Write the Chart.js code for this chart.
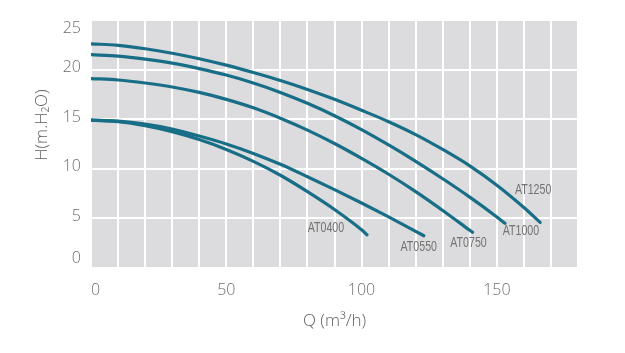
<!DOCTYPE html>
<html>
<head>
<meta charset="utf-8">
<script src="https://cdn.jsdelivr.net/npm/chart.js@4.4.1/dist/chart.umd.min.js"></script>
<style>
  html, body { margin: 0; padding: 0; background: #fff; }
</style>
</head>
<body>
<canvas id="chart" width="625" height="353"></canvas>
<script>
// pump curves, flow Q (m3/h) vs head H (m.H2O)
const modelNames = ['AT0400', 'AT0550', 'AT0750', 'AT1000', 'AT1250'];

const q0400 = [0, 10, 20, 30, 40, 50, 60, 70, 80, 90, 100, 102];
const h0400 = [14.9, 14.75, 14.35, 13.75, 12.95, 11.95, 10.75, 9.35, 7.7, 5.9, 3.85, 3.35];

const q0550 = [0, 10, 20, 30, 40, 50, 60, 70, 80, 90, 100, 110, 120, 123];
const h0550 = [14.9, 14.8, 14.5, 14.0, 13.3, 12.5, 11.55, 10.45, 9.2, 7.9, 6.55, 5.15, 3.7, 3.25];

const q0750 = [0, 10, 20, 30, 40, 50, 60, 70, 80, 90, 100, 110, 120, 130, 140, 141];
const h0750 = [19.1, 18.95, 18.65, 18.25, 17.7, 17.0, 16.15, 15.1, 13.9, 12.55, 11.05, 9.45, 7.7, 5.8, 3.8, 3.6];

const q1000 = [0, 10, 20, 30, 40, 50, 60, 70, 80, 90, 100, 110, 120, 130, 140, 150, 153];
const h1000 = [21.5, 21.35, 21.05, 20.65, 20.1, 19.45, 18.65, 17.7, 16.6, 15.35, 13.95, 12.4, 10.75, 9.0, 7.15, 5.15, 4.5];

const q1250 = [0, 10, 20, 30, 40, 50, 60, 70, 80, 90, 100, 110, 120, 130, 140, 150, 160, 166];
const h1250 = [22.6, 22.45, 22.1, 21.65, 21.1, 20.45, 19.7, 18.9, 18.0, 17.0, 15.9, 14.75, 13.45, 11.95, 10.3, 8.35, 6.1, 4.6];

const yTickValues = [0, 5, 10, 15, 20, 25];
const xLabelValues = [0, 50, 100, 150];

const seriesQ = [q0400, q0550, q0750, q1000, q1250];
const seriesH = [h0400, h0550, h0750, h1000, h1250];

// where each model name sits relative to the curve's last point (px)
const labelShift = {
  AT0400: [-41, -7],
  AT0550: [-5, 11],
  AT0750: [-4, 11],
  AT1000: [16, 8],
  AT1250: [-7, -32]
};

const tickFont = '300 16px "Open Sans", sans-serif';
const tickColor = '#6e6e6e';

const datasets = modelNames.map((name, i) => ({
  label: name,
  data: seriesQ[i].map((q, j) => ({ x: q, y: seriesH[i][j] })),
  borderColor: '#196e87',
  borderWidth: 3.2,
  borderCapStyle: 'round',
  pointRadius: 0,
  cubicInterpolationMode: 'monotone',
  fill: false
}));

const decorPlugin = {
  id: 'decor',
  beforeDraw(chart) {
    const { ctx, chartArea } = chart;
    ctx.save();
    ctx.fillStyle = '#dcdcde';
    ctx.fillRect(chartArea.left, chartArea.top, chartArea.right - chartArea.left, chartArea.bottom - chartArea.top);
    ctx.restore();
  },
  afterDatasetsDraw(chart) {
    const { ctx } = chart;
    const xs = chart.scales.x, ys = chart.scales.y;
    ctx.save();

    // model names at the end of each curve, squeezed to look condensed
    ctx.font = '14px "Liberation Sans Narrow", "Liberation Sans", sans-serif';
    ctx.fillStyle = '#747474';
    ctx.textAlign = 'center';
    ctx.textBaseline = 'middle';
    modelNames.forEach((name, i) => {
      const q = seriesQ[i], h = seriesH[i];
      const px = xs.getPixelForValue(q[q.length - 1]) + labelShift[name][0];
      const py = ys.getPixelForValue(h[h.length - 1]) + labelShift[name][1];
      ctx.save();
      ctx.translate(px, py);
      ctx.scale(0.76, 1);
      ctx.fillText(name, 0, 0);
      ctx.restore();
    });

    // y tick labels (first / last nudged inward like the original)
    ctx.font = tickFont;
    ctx.fillStyle = tickColor;
    ctx.textAlign = 'right';
    yTickValues.forEach(v => {
      let shift = -2;
      if (v === ys.max) shift = 8;
      if (v === ys.min) shift = -10;
      ctx.fillText(String(v), 81, ys.getPixelForValue(v) + shift);
    });

    // axis titles
    ctx.font = '300 17px "Open Sans", sans-serif';
    ctx.fillStyle = '#5f5f5f';
    ctx.textAlign = 'center';
    ctx.fillText('Q (m³/h)', (chart.chartArea.left + chart.chartArea.right) / 2, 321);
    ctx.translate(42, 125);
    ctx.rotate(-Math.PI / 2);
    ctx.fillText('H(m.H₂O)', 0, 0);
    ctx.restore();
  }
};

new Chart(document.getElementById('chart'), {
  type: 'line',
  data: { datasets: datasets },
  plugins: [decorPlugin],
  options: {
    responsive: false,
    devicePixelRatio: 1,
    animation: false,
    layout: { padding: { left: 0, right: 47, top: 20, bottom: 0 } },
    plugins: {
      legend: { display: false },
      tooltip: { enabled: false }
    },
    scales: {
      x: {
        type: 'linear',
        min: 0,
        max: 180,
        afterFit: scale => { scale.height = 85; },
        grid: { color: '#ffffff', lineWidth: 2, drawTicks: false },
        border: { display: false },
        ticks: {
          stepSize: 10,
          autoSkip: false,
          maxRotation: 0,
          align: 'inner',
          padding: 13,
          font: { family: '"Open Sans", sans-serif', size: 16, weight: '300' },
          color: tickColor,
          callback: v => xLabelValues.includes(v) ? String(v) : ''
        }
      },
      y: {
        min: 0,
        max: 25,
        afterFit: scale => { scale.width = 91; },
        grid: { color: '#ffffff', lineWidth: 2, drawTicks: false },
        border: { display: false },
        ticks: { stepSize: 5, display: false }
      }
    }
  }
});
</script>
</body>
</html>
